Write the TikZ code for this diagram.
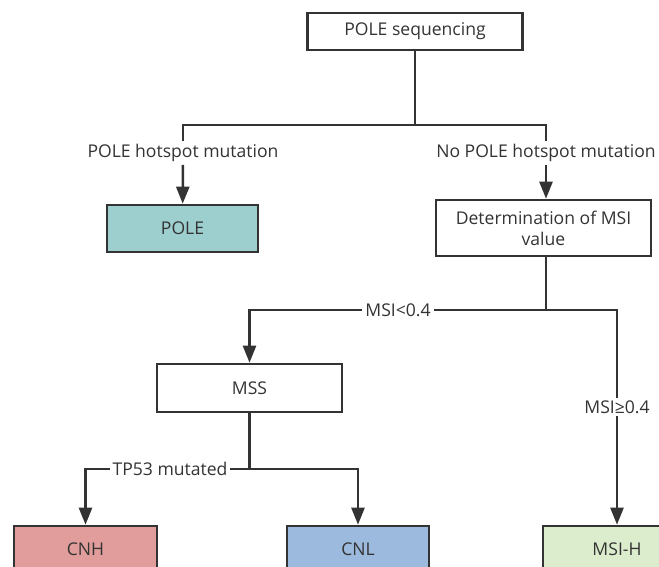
\documentclass[tikz,border=0pt]{standalone}
\usepackage{fontspec}
\setmainfont{Open Sans}
\usepackage{xcolor}
\usepackage{tikz}
\usetikzlibrary{arrows.meta}
\usetikzlibrary{calc}

\definecolor{linegray}{HTML}{333333}
\definecolor{poleteal}{HTML}{9DCFCF}
\definecolor{cnhred}{HTML}{E09D9B}
\definecolor{cnlblue}{HTML}{9BBADE}
\definecolor{msigreen}{HTML}{DCEDCD}

\begin{document}
\begin{tikzpicture}[x=0.02cm,y=-0.02cm,line width=1.4pt,draw=linegray,text=linegray]
\fontsize{10pt}{12pt}\selectfont
\tikzstyle{box}=[rectangle, draw=linegray, line width=1.5pt, align=center, inner sep=2pt]
\tikzstyle{lbl}=[inner sep=1pt, fill=white]
\tikzstyle{arr}=[-{Triangle[length=3.4mm,width=2.6mm]}]
\clip (0,0) rectangle (659,566);
% boxes
\node[box, minimum width=4.3cm, minimum height=0.74cm] (seq) at (415,31.5) {POLE sequencing};
\node[box, fill=poleteal, minimum width=3.02cm, minimum height=0.94cm] (pole) at (182.5,228.5) {POLE};
\node[box, minimum width=4.3cm, minimum height=1.12cm] (det) at (543.5,228) {Determination of MSI\\value};
\node[box, minimum width=3.7cm, minimum height=0.96cm] (mss) at (249.5,388) {MSS};
\node[box, fill=cnhred, minimum width=2.86cm, minimum height=0.94cm] (cnh) at (85.5,549.5) {CNH};
\node[box, fill=cnlblue, minimum width=2.84cm, minimum height=0.94cm] (cnl) at (358,549.5) {CNL};
\node[box, fill=msigreen, minimum width=2.96cm, minimum height=0.94cm] (msih) at (617,549.5) {MSI-H};
% branch points
\coordinate (j1) at (415,125);
\coordinate (j2) at (546,310);
\coordinate (j3) at (249.5,469);
% labels
\node[lbl] (hot) at (183,153) {POLE hotspot mutation};
\node[lbl] (nohot) at (546,153) {No POLE hotspot mutation};
\node[lbl] (low) at (398,310) {MSI<0.4};
\node[lbl] (high) at (617,407) {MSI≥0.4};
\node[lbl] (tp) at (170,469) {TP53 mutated};
% connectors
\draw (seq) -- (j1);
\draw (j1) -| (hot);
\draw (j1) -| (nohot);
\draw[arr] (hot) -- (pole);
\draw[arr] (nohot) -- (det.north -| nohot);
\draw (det.south -| j2) -- (j2);
\draw (j2) -- (low);
\draw[arr] (low) -| (mss);
\draw (j2) -| (high);
\draw[arr] (high) -- (msih);
\draw (mss) -- (j3);
\draw (j3) -- (tp);
\draw[arr] (tp) -| (cnh);
\draw[arr] (j3) -| (cnl);
\end{tikzpicture}
\end{document}
